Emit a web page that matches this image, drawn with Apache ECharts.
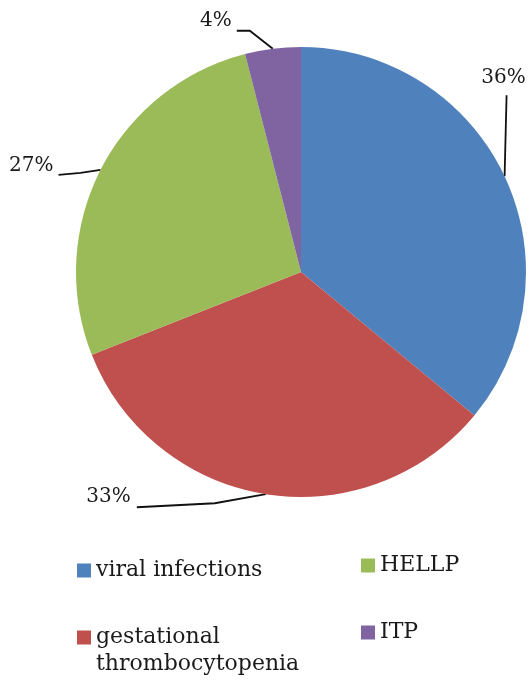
<!DOCTYPE html>
<html>
<head>
<meta charset="utf-8">
<script src="https://cdn.jsdelivr.net/npm/echarts@6/dist/echarts.min.js"></script>
<style>
  html, body { margin: 0; padding: 0; background: #fff; }
  #chart { width: 531px; height: 681px; }
</style>
</head>
<body>
<div id="chart"></div>
<script>
// categories and shares (%)
let causes = ['viral infections', 'gestational thrombocytopenia', 'HELLP', 'ITP'];
let shares = [36, 33, 27, 4];
let colors = ['#4F81BD', '#C0504D', '#9BBB59', '#8064A2'];

const font = 'DejaVu Serif';
const legendText = { fontFamily: font, fontSize: 22, color: '#1a1a1a', lineHeight: 27 };

// label line bends, relative to the slice edge point
const lineBends = [
    [[2, -81], [2, -81]],
    [[-51, 9], [-129, 13]],
    [[-20, 3], [-42, 5]],
    [[-23, -18], [-36, -18]]
];
// label text offset from the line end
const textShift = [[-3, -17, 'center'], [-6, -10, 'right'], [-5, -9, 'right'], [-5, -10, 'right']];

let pieData = causes.map((c, i) => ({ name: c, value: shares[i], itemStyle: { color: colors[i] } }));

function legendAt(name, left, top, extra) {
    return Object.assign({
        data: [name],
        left: left,
        top: top,
        orient: 'vertical',
        itemWidth: 14,
        itemHeight: 14,
        icon: 'rect',
        selectedMode: false,
        padding: 0,
        textStyle: legendText
    }, extra || {});
}

let options = {
    animation: false,
    legend: [
        legendAt(causes[0], 77, 557),
        legendAt(causes[2], 361, 552),
        // blank first line keeps the square level with "gestational"
        legendAt(causes[1], 77, 597, {
            formatter: (n) => '\n' + n.replace(' ', '\n')
        }),
        legendAt(causes[3], 361, 619)
    ],
    series: [
        {
            type: 'pie',
            center: [301, 272],
            radius: 225,
            startAngle: 90,
            clockwise: true,
            data: pieData,
            label: {
                show: true,
                formatter: '{c}%',
                fontFamily: font,
                fontSize: 20,
                color: '#1a1a1a',
                overflow: 'none'
            },
            labelLine: {
                show: true,
                length: 10,
                length2: 10,
                lineStyle: { color: '#111', width: 1.8 }
            },
            labelLayout: (p) => {
                const e = p.labelLinePoints[0];
                const b = lineBends[p.dataIndex];
                const p1 = [e[0] + b[0][0], e[1] + b[0][1]];
                const p2 = [e[0] + b[1][0], e[1] + b[1][1]];
                const t = textShift[p.dataIndex];
                return {
                    x: p2[0] + t[0],
                    y: p2[1] + t[1],
                    align: t[2],
                    verticalAlign: 'middle',
                    width: 60,
                    labelLinePoints: [e, p1, p2]
                };
            }
        }
    ]
};

let chart = echarts.init(document.getElementById('chart'));
chart.setOption(options);
</script>
</body>
</html>
